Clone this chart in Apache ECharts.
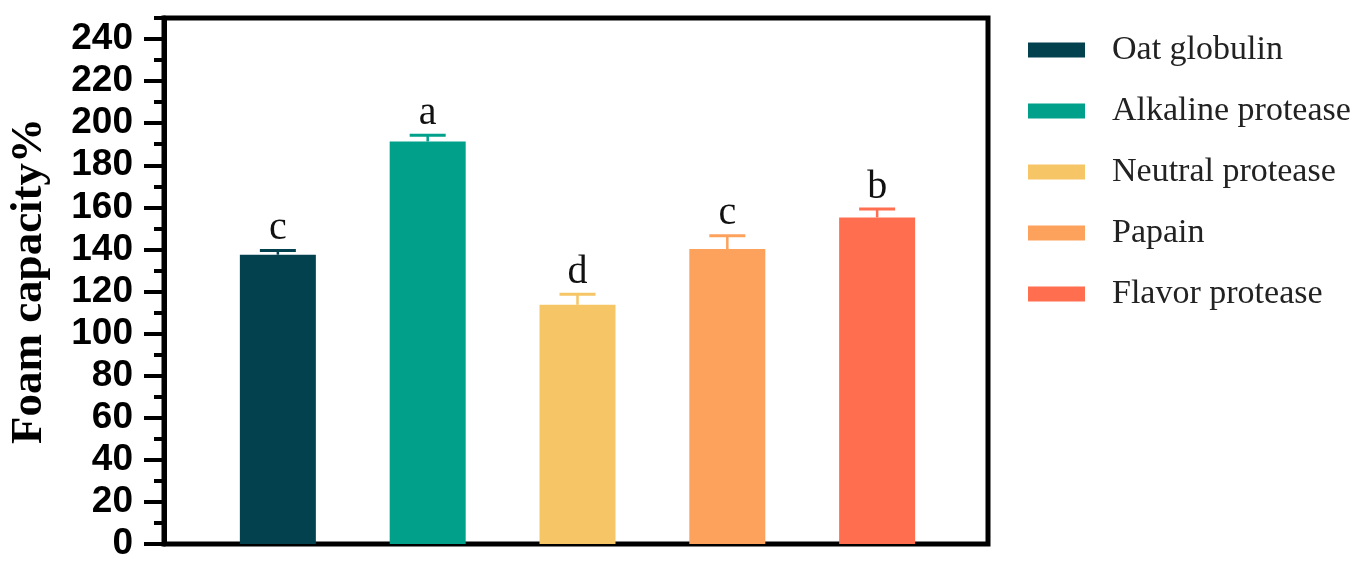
<!DOCTYPE html>
<html>
<head>
<meta charset="utf-8">
<style>
  html, body { margin: 0; padding: 0; background: #fff; }
  #chart { width: 1365px; height: 573px; }
</style>
<script src="https://cdn.jsdelivr.net/npm/echarts@6/dist/echarts.min.js"></script>
</head>
<body>
<div id="chart"></div>
<script>
// data
const groups = ['Oat globulin', 'Alkaline protease', 'Neutral protease', 'Papain', 'Flavor protease']
const means = [137.5, 191.3, 113.7, 140.2, 155.2]
const errors = [2.0, 3.0, 5.0, 6.3, 4.0]
const letters = ['c', 'a', 'd', 'c', 'b']
const colors = ['#03414f', '#00a08a', '#f6c566', '#fda25c', '#ff6e4e']
const yTicks = [0, 20, 40, 60, 80, 100, 120, 140, 160, 180, 200, 220, 240]

const chart = echarts.init(document.getElementById('chart'))

const barSeries = groups.map((name, i) => ({
  name: name,
  type: 'bar',
  data: [[i, means[i]]],
  barWidth: 76,
  barGap: '-100%',
  itemStyle: { color: colors[i] },
  z: 2,
}))

// error bar caps + significance letters
const errSeries = {
  type: 'custom',
  data: means.map((m, i) => [i, m, errors[i]]),
  z: 3,
  renderItem: (params, api) => {
    const i = params.dataIndex
    const c = colors[i]
    const top = api.coord([api.value(0), api.value(1)])
    const cap = api.coord([api.value(0), api.value(1) + api.value(2)])
    return {
      type: 'group',
      children: [
        { type: 'line', shape: { x1: top[0], y1: top[1], x2: cap[0], y2: cap[1] }, style: { stroke: c, lineWidth: 2.5 } },
        { type: 'line', shape: { x1: cap[0] - 18, y1: cap[1], x2: cap[0] + 18, y2: cap[1] }, style: { stroke: c, lineWidth: 3 } },
        {
          type: 'text',
          x: cap[0],
          y: cap[1] - 2,
          style: {
            text: letters[i],
            textAlign: 'center',
            textVerticalAlign: 'bottom',
            font: '40px "Liberation Serif"',
            fill: '#111',
          },
        },
      ],
    }
  },
}

const option = {
  animation: false,
  grid: {
    left: 164,
    right: 377,
    top: 18,
    bottom: 29,
    outerBoundsMode: 'none',
    containLabel: false,
    show: true,
    borderColor: '#000',
    borderWidth: 5,
    backgroundColor: 'transparent',
  },
  legend: {
    data: groups,
    orient: 'vertical',
    left: 1023,
    top: 28,
    itemWidth: 57,
    itemHeight: 15,
    itemGap: 27,
    icon: 'rect',
    textStyle: {
      fontFamily: 'Liberation Serif',
      fontSize: 34,
      color: '#222',
      padding: [0, 0, 0, 22],
    },
  },
  xAxis: {
    type: 'value',
    min: -0.76,
    max: 4.74,
    axisLine: { show: false },
    axisTick: { show: false },
    axisLabel: { show: false },
    splitLine: { show: false },
  },
  yAxis: [
    {
      type: 'value',
      min: 0,
      max: 250,
      interval: 10,
      name: 'Foam capacity%',
      nameLocation: 'middle',
      nameGap: 112,
      nameTextStyle: {
        fontFamily: 'Liberation Serif',
        fontWeight: 'bold',
        fontSize: 45,
        color: '#000',
      },
      axisLine: { show: true, onZero: false, lineStyle: { color: '#000', width: 5 } },
      axisTick: { show: true, length: 10, lineStyle: { color: '#000', width: 4 } },
      axisLabel: { show: false },
      splitLine: { show: false },
    },
    {
      type: 'value',
      min: 0,
      max: 250,
      position: 'left',
      axisLine: { show: false, onZero: false },
      axisTick: { show: true, customValues: yTicks, length: 20, lineStyle: { color: '#000', width: 4 } },
      axisLabel: {
        customValues: yTicks,
        margin: 31,
        fontFamily: 'Liberation Sans',
        fontWeight: 'bold',
        fontSize: 37,
        color: '#000',
      },
      splitLine: { show: false },
    },
  ],
  series: [...barSeries, errSeries],
}

chart.setOption(option)
window.addEventListener('resize', () => chart.resize())
</script>
</body>
</html>
